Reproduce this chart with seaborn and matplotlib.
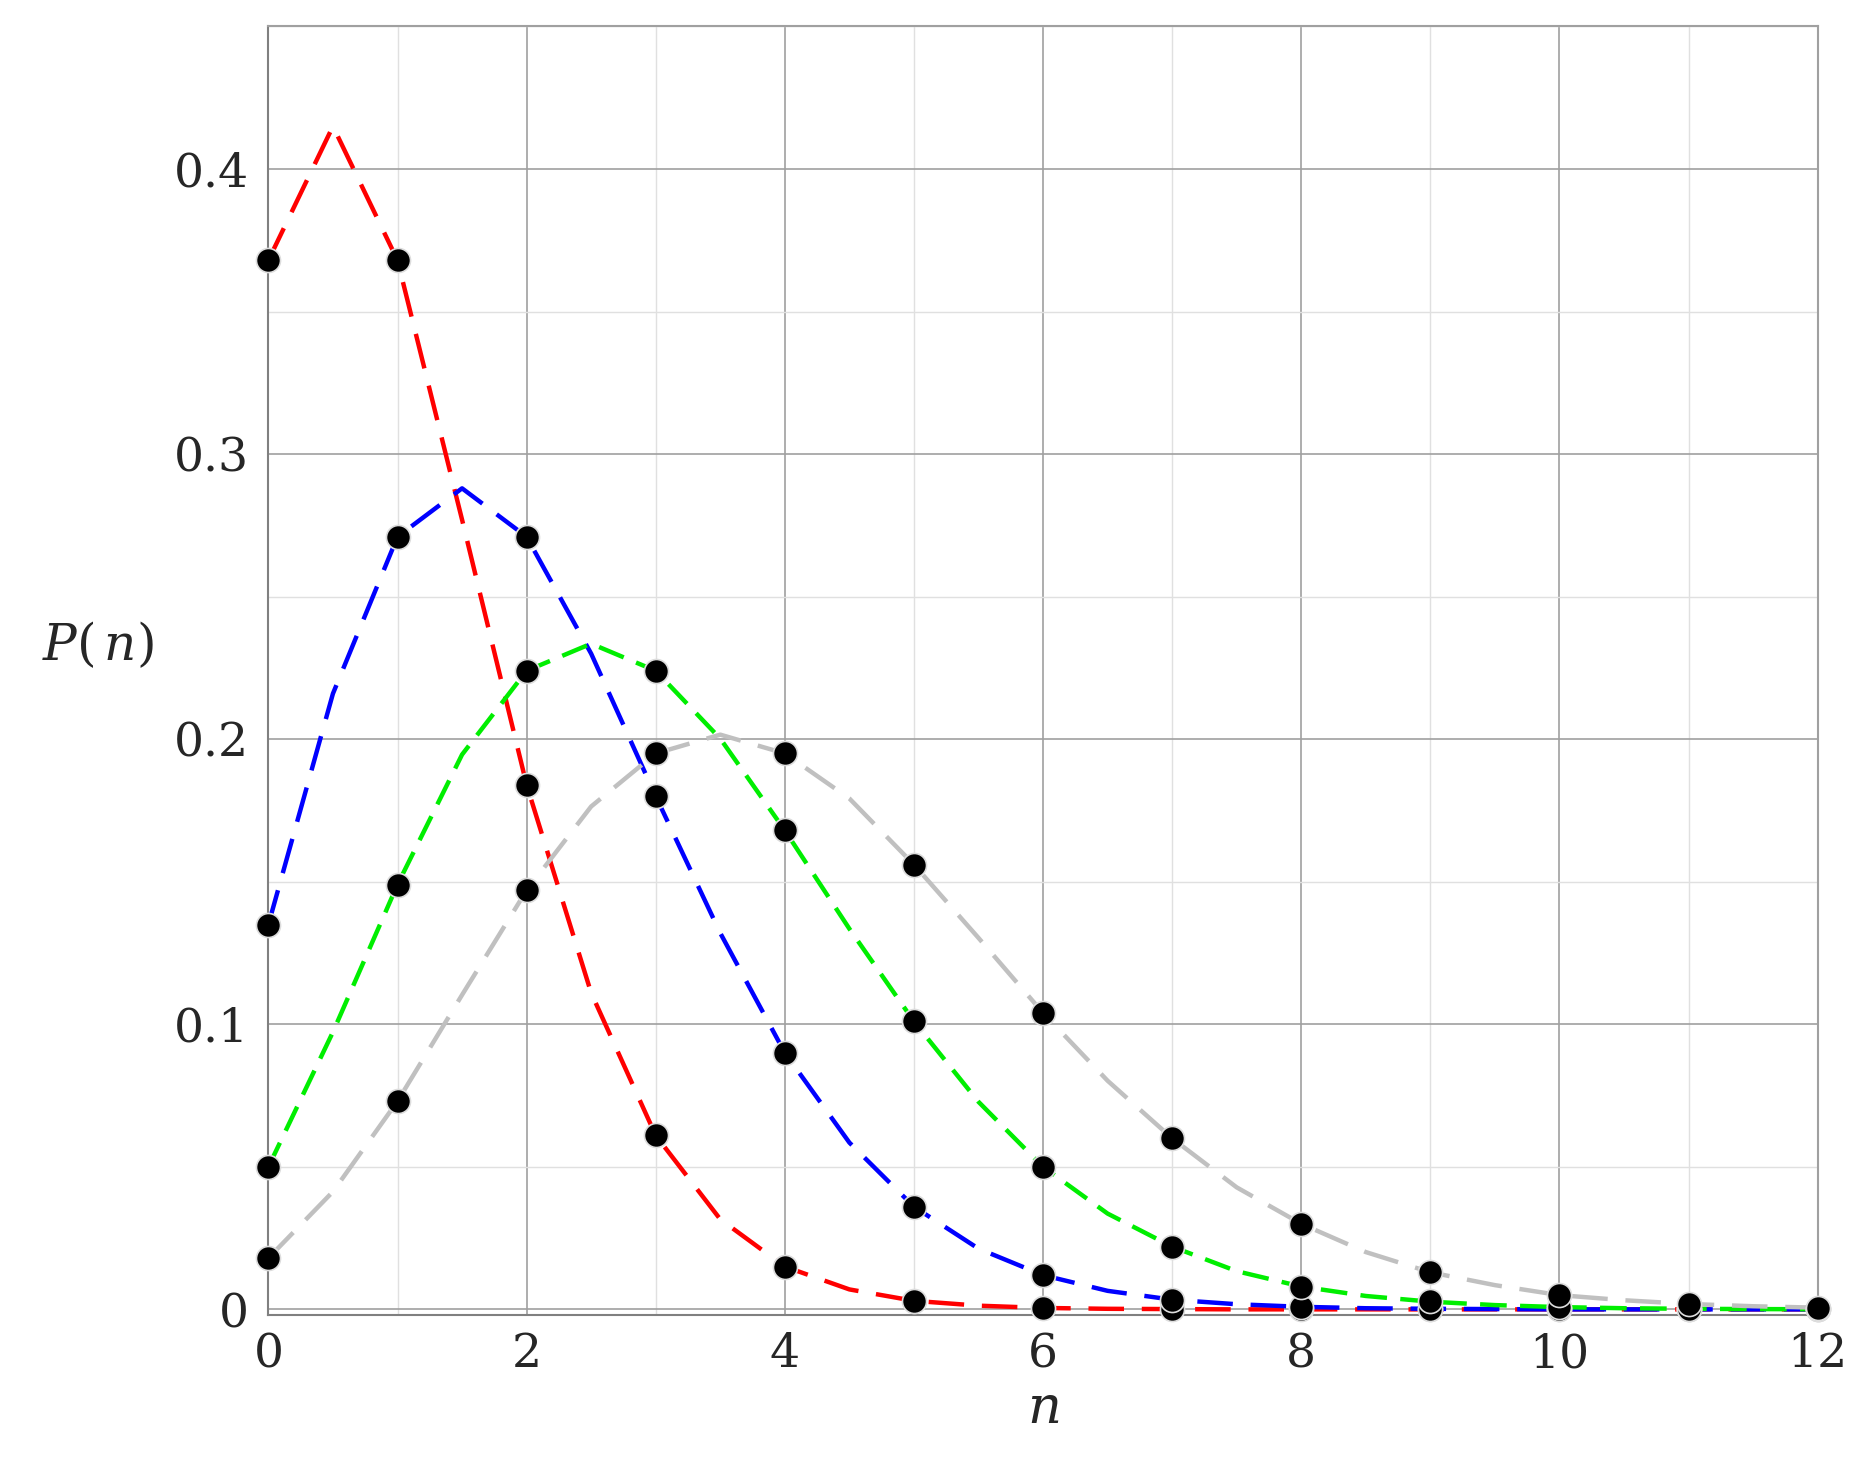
import numpy as np
import pandas as pd
import matplotlib
matplotlib.use("Agg")
import matplotlib.pyplot as plt
import seaborn as sns

# curve samples (x step 0.5)
x_curve = [i * 0.5 for i in range(25)]
red_curve = [0.368, 0.415, 0.368, 0.277, 0.184, 0.111, 0.061, 0.0316, 0.015, 0.0070, 0.003,
             0.0013, 0.0005, 0.0002, 0.0001, 0, 0, 0, 0, 0, 0, 0, 0, 0, 0]
blue_curve = [0.135, 0.216, 0.271, 0.288, 0.271, 0.230, 0.180, 0.132, 0.090, 0.0585, 0.036,
              0.0213, 0.012, 0.0065, 0.0034, 0.0018, 0.0009, 0.0004, 0.0002, 0.0001, 0, 0, 0, 0, 0]
green_curve = [0.050, 0.0973, 0.149, 0.1946, 0.224, 0.2335, 0.224, 0.2002, 0.168, 0.1335, 0.101,
               0.0728, 0.050, 0.0336, 0.022, 0.0134, 0.008, 0.0047, 0.0027, 0.0015, 0.0008,
               0.0004, 0.0002, 0.0001, 0.00005]
gray_curve = [0.018, 0.0413, 0.073, 0.1103, 0.147, 0.1764, 0.195, 0.2016, 0.195, 0.1792, 0.156,
              0.1303, 0.104, 0.0802, 0.060, 0.0428, 0.030, 0.0201, 0.013, 0.0085, 0.005,
              0.0032, 0.0019, 0.0011, 0.0006]

# points
n_pts = list(range(13))
red_pts = [0.368, 0.368, 0.184, 0.061, 0.015, 0.003, 0.0005, 0, 0, 0, 0, 0, 0]
blue_pts = [0.135, 0.271, 0.271, 0.180, 0.090, 0.036, 0.012, 0.0034, 0.0009, 0.0002, 0, 0, 0]
green_pts = [0.050, 0.149, 0.224, 0.224, 0.168, 0.101, 0.050, 0.022, 0.008, 0.003, 0.0008, 0.0002, 0.00005]
gray_pts = [0.018, 0.073, 0.147, 0.195, 0.195, 0.156, 0.104, 0.060, 0.030, 0.013, 0.005, 0.002, 0.0006]

x_ticks = [0, 2, 4, 6, 8, 10, 12]
y_ticks = [0, 0.1, 0.2, 0.3, 0.4]
y_labels = ["0", "0.1", "0.2", "0.3", "0.4"]

sns.set_style("white")
plt.rcParams['font.family'] = ['DejaVu Serif']
plt.rcParams['mathtext.fontset'] = 'dejavuserif'

fig = plt.figure(figsize=(18.51, 14.71), dpi=100)
ax = fig.add_axes([0.145, 0.106, 0.837, 0.876])

ax.set_xticks(x_ticks)
ax.set_xticks([1, 3, 5, 7, 9, 11], minor=True)
ax.set_yticks(y_ticks)
ax.set_yticks([0.05, 0.15, 0.25, 0.35, 0.45], minor=True)
ax.grid(True, which='major', color='#a0a0a0', lw=1.2)
ax.grid(True, which='minor', color='#e0e0e0', lw=1.0)
ax.set_axisbelow(True)

styles = [(red_curve, '#ff0000', (8, 4)), (blue_curve, '#0000ff', (8, 4)),
          (green_curve, '#00ee00', (6, 3)), (gray_curve, '#c0c0c0', (8, 4))]
for ys, c, d in styles:
    sns.lineplot(x=x_curve, y=ys, ax=ax, color=c, lw=3.2, dashes=False)
    ax.lines[-1].set_dashes(d)
    ax.lines[-1].set_solid_joinstyle('round')
    ax.lines[-1].set_dash_joinstyle('round')

for ys in [red_pts, blue_pts, green_pts, gray_pts]:
    sns.scatterplot(x=n_pts, y=ys, ax=ax, color='black', s=300, edgecolor='#dddddd',
                    linewidth=1.2, zorder=5, clip_on=False)

ax.set_xlim(0, 12)
ax.set_ylim(-0.002, 0.45)
ax.set_yticklabels(y_labels)
for s in ax.spines.values():
    s.set_color('#a0a0a0')
    s.set_linewidth(1.5)
ax.spines['left'].set_color('#808080')
ax.spines['bottom'].set_color('#808080')
ax.tick_params(axis='both', labelsize=34, length=6, direction='in', color='#808080')
ax.tick_params(axis='y', pad=14)
ax.tick_params(axis='x', pad=12)
ax.set_xlabel('$n$', fontsize=38, labelpad=4)
ax.set_ylabel('$P(\\,n)$', fontsize=36, rotation=0)
ax.yaxis.set_label_coords(-0.11, 0.5)

fig.savefig('out.png', dpi=100)
